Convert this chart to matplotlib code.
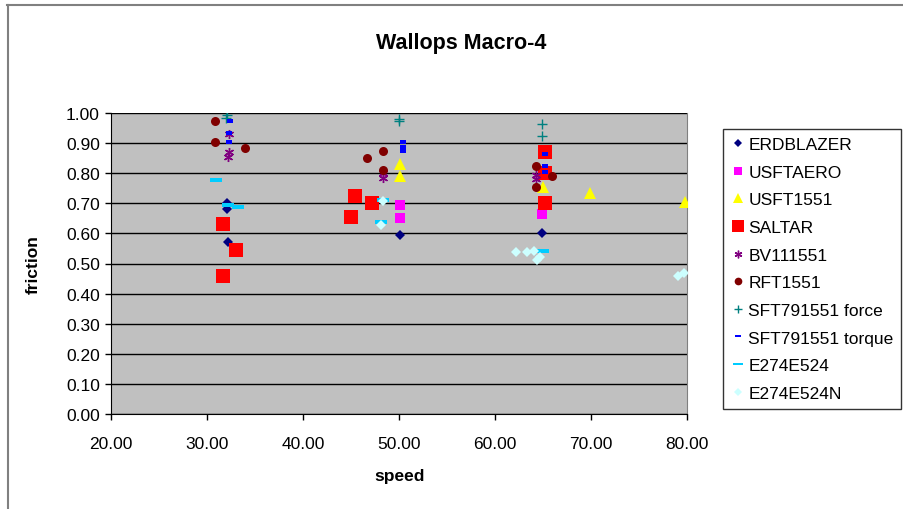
import matplotlib
matplotlib.use('Agg')

import matplotlib.pyplot as plt
from matplotlib.lines import Line2D

plt.rcParams['font.family'] = ['Liberation Sans', 'DejaVu Sans']

# data
erd_x = [32.1, 32.1, 32.2, 50.1, 64.9]
erd_y = [0.700, 0.680, 0.570, 0.595, 0.600]

usftaero_x = [50.1, 50.1, 64.9]
usftaero_y = [0.695, 0.650, 0.665]

usft1551_x = [50.1, 50.1, 65.0, 69.9, 79.8]
usft1551_y = [0.830, 0.790, 0.755, 0.735, 0.705]

saltar_x = [31.7, 33.0, 31.7, 45.4, 47.2, 45.0, 65.2, 65.2, 65.2]
saltar_y = [0.630, 0.545, 0.460, 0.725, 0.700, 0.655, 0.870, 0.800, 0.700]

bv_x = [32.3, 32.3, 32.2, 48.3, 48.3, 64.3, 64.3]
bv_y = [0.930, 0.870, 0.855, 0.800, 0.785, 0.795, 0.780]

rft_x = [30.8, 30.8, 34.0, 48.3, 46.7, 48.3, 64.3, 65.9, 64.3]
rft_y = [0.973, 0.905, 0.885, 0.875, 0.852, 0.812, 0.823, 0.792, 0.753]

force_x = [32.1, 32.0, 50.05, 50.0, 64.9, 64.9]
force_y = [0.995, 0.985, 0.980, 0.975, 0.963, 0.925]

torque_x = [32.4, 32.3, 32.3, 50.4, 50.4, 50.4, 65.2, 65.2, 65.2]
torque_y = [0.975, 0.933, 0.903, 0.903, 0.886, 0.875, 0.864, 0.823, 0.803]

e274_x = [30.9, 32.2, 33.2, 48.3, 48.1, 65.0]
e274_y = [0.777, 0.694, 0.687, 0.712, 0.637, 0.543]

e274n_x = [48.3, 48.1, 62.15, 63.3, 64.1, 64.7, 64.4, 79.1, 79.7]
e274n_y = [0.709, 0.629, 0.537, 0.537, 0.543, 0.520, 0.510, 0.457, 0.467]

x_ticks = [20, 30, 40, 50, 60, 70, 80]
y_ticks = [0.0, 0.1, 0.2, 0.3, 0.4, 0.5, 0.6, 0.7, 0.8, 0.9, 1.0]

# short flat bars for the dash markers
blue_dash = [(-1, -0.5), (1, -0.5), (1, 0.5), (-1, 0.5), (-1, -0.5)]
cyan_dash = [(-1, -0.28), (1, -0.28), (1, 0.28), (-1, 0.28), (-1, -0.28)]

series = [
    ('ERDBLAZER', erd_x, erd_y, dict(marker='D', ms=4.8, color='#000080')),
    ('USFTAERO', usftaero_x, usftaero_y, dict(marker='s', ms=7.2, color='#FF00FF')),
    ('USFT1551', usft1551_x, usft1551_y, dict(marker='^', ms=8, color='#FFFF00')),
    ('SALTAR', saltar_x, saltar_y, dict(marker='s', ms=10, color='#FF0000')),
    ('BV111551', bv_x, bv_y, dict(marker=(6, 2, 0), ms=6.5, color='#800080', mew=1)),
    ('RFT1551', rft_x, rft_y, dict(marker='o', ms=6.5, color='#800000')),
    ('SFT791551 force', force_x, force_y, dict(marker='+', ms=6.5, color='#008080', mew=1)),
    ('SFT791551 torque', torque_x, torque_y, dict(marker=blue_dash, ms=5, color='#0000FF')),
    ('E274E524', e274_x, e274_y, dict(marker=cyan_dash, ms=8, color='#00CCFF')),
    ('E274E524N', e274n_x, e274n_y, dict(marker='D', ms=5, color='#CCFFFF')),
]

fig = plt.figure(figsize=(9.04, 5.10), dpi=100)
ax = fig.add_axes([111 / 904, 1 - 415 / 510, 576 / 904, 301 / 510])
ax.set_facecolor('#C0C0C0')

for name, xs, ys, style in series:
    ax.plot(xs, ys, linestyle='none', markeredgewidth=style.pop('mew', 0),
            markeredgecolor=style['color'], label=name, zorder=3, **style)

ax.set_xlim(20, 80)
ax.set_ylim(0, 1.0)
ax.set_xticks(x_ticks)
ax.set_xticklabels([f'{t:.2f}' for t in x_ticks])
ax.set_yticks(y_ticks)
ax.set_yticklabels([f'{t:.2f}' for t in y_ticks])
ax.tick_params(direction='out', length=4, width=1, labelsize=12.5, colors='black')
ax.tick_params(axis='x', pad=12)
ax.tick_params(axis='y', pad=4)
ax.grid(axis='y', color='black', linewidth=1)
ax.set_axisbelow(True)
ax.spines['top'].set_visible(False)
ax.spines['right'].set_color('#808080')
for s in ('left', 'bottom'):
    ax.spines[s].set_color('black')

fig.text(461 / 904, 1 - 44 / 510, 'Wallops Macro-4', fontsize=15.5,
         fontweight='bold', ha='center', va='center')
fig.text(33 / 904, 1 - 265 / 510, 'friction', fontsize=12.5,
         fontweight='bold', rotation=90, ha='center', va='center')
fig.text(400 / 904, 1 - 477 / 510, 'speed', fontsize=12.5,
         fontweight='bold', ha='center', va='center')

leg = fig.legend(loc='upper left', bbox_to_anchor=(723 / 904, 1 - 130 / 510),
                 fontsize=12.5, frameon=True, fancybox=False, edgecolor='black',
                 borderaxespad=0, borderpad=0.45, labelspacing=0.72,
                 handlelength=0.8, handletextpad=0.2, markerscale=0.85)
leg.get_frame().set_linewidth(1)

# outer chart-area border (only top and left are visible)
fig.add_artist(Line2D([7 / 904, 1], [1 - 6 / 510, 1 - 6 / 510],
                      transform=fig.transFigure, color='#808080', lw=1.5))
fig.add_artist(Line2D([8 / 904, 8 / 904], [0, 1 - 6 / 510],
                      transform=fig.transFigure, color='#808080', lw=1.5))

fig.savefig('out.png', dpi=100)
